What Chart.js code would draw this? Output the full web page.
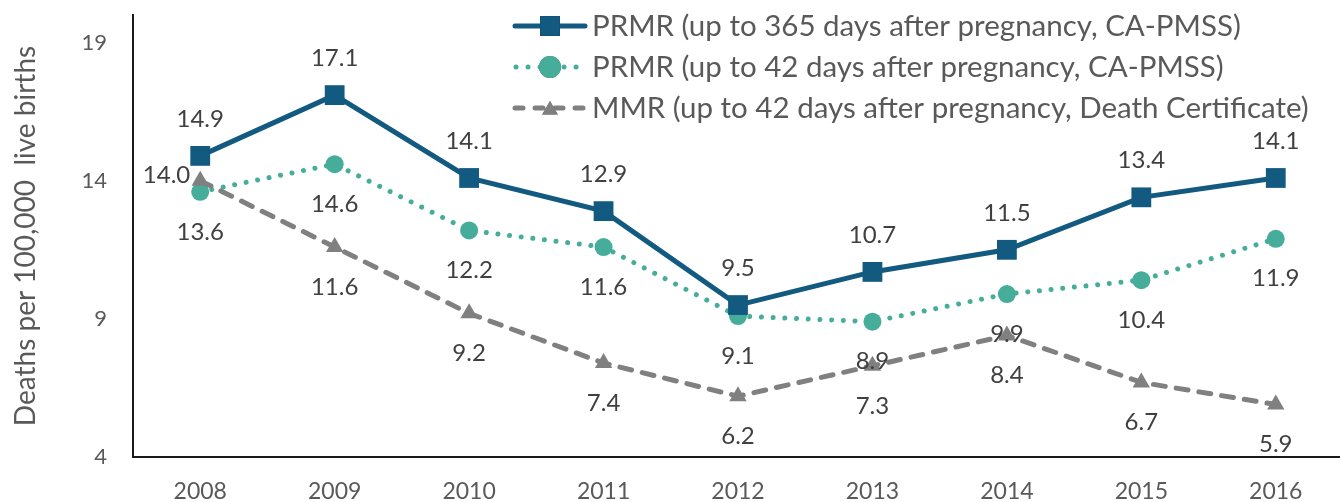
<!DOCTYPE html>
<html>
<head>
<meta charset="utf-8">
<script src="https://cdn.jsdelivr.net/npm/chart.js@4.4.1/dist/chart.umd.min.js"></script>
<style>
  html, body { margin: 0; padding: 0; background: #fff; overflow: hidden; }
</style>
</head>
<body>
<!-- canvas a bit wider than the window: the original plot is cropped at the right -->
<canvas id="chart" width="1357" height="502"></canvas>
<script>
const years = ["2008", "2009", "2010", "2011", "2012", "2013", "2014", "2015", "2016"];
const prmr365 = [14.9, 17.1, 14.1, 12.9, 9.5, 10.7, 11.5, 13.4, 14.1];
const prmr42 = [13.6, 14.6, 12.2, 11.6, 9.1, 8.9, 9.9, 10.4, 11.9];
const mmr42 = [14.0, 11.6, 9.2, 7.4, 6.2, 7.3, 8.4, 6.7, 5.9];
const yTicks = [4, 9, 14, 19];
const seriesNames = [
    "PRMR (up to 365 days after pregnancy, CA-PMSS)",
    "PRMR (up to 42 days after pregnancy, CA-PMSS)",
    "MMR (up to 42 days after pregnancy, Death Certificate)"
];

const BLUE = "#135a81";
const TEAL = "#46ad9b";
const GRAY = "#808080";
const FONT = "Lato";

// label offsets per dataset (px from the point), 2008 MMR label sits to the left
const labelPlace = [
    { dy: -37 },
    { dy: 40 },
    { dy: 40, leftAt: [0] }
];

const pointLabels = {
    id: "pointLabels",
    afterDatasetsDraw(chart) {
        const ctx = chart.ctx;
        ctx.save();
        ctx.font = "24px " + FONT;
        ctx.fillStyle = "#404040";
        ctx.textBaseline = "middle";
        chart.data.datasets.forEach((ds, i) => {
            const meta = chart.getDatasetMeta(i);
            const place = labelPlace[i];
            meta.data.forEach((pt, j) => {
                const txt = ds.data[j].toFixed(1);
                if (place.leftAt && place.leftAt.includes(j)) {
                    ctx.textAlign = "right";
                    ctx.fillText(txt, pt.x - 10, pt.y - 5);
                } else {
                    ctx.textAlign = "center";
                    ctx.fillText(txt, pt.x, pt.y + place.dy);
                }
            });
        });
        ctx.restore();
    }
};

const customLegend = {
    id: "customLegend",
    afterDraw(chart) {
        const ctx = chart.ctx;
        const rows = [26, 67, 108];
        const dashes = [[], [0.01, 12], [8, 12]];
        const sizes = [14, 11, 9];
        ctx.save();
        chart.data.datasets.forEach((ds, i) => {
            const y = rows[i];
            ctx.strokeStyle = ds.borderColor;
            ctx.lineWidth = ds.borderWidth;
            ctx.lineCap = "round";
            ctx.setLineDash(dashes[i]);
            ctx.beginPath();
            ctx.moveTo(i === 1 ? 516 : 515, y);
            ctx.lineTo(585, y);
            ctx.stroke();
            ctx.setLineDash([]);
            Chart.helpers.drawPoint(ctx, {
                pointStyle: ds.pointStyle,
                radius: sizes[i],
                borderWidth: 0
            }, 550, y + (i === 2 ? 2 : 0));
            ctx.fillStyle = ds.pointBackgroundColor;
            ctx.fill();
            ctx.font = "29.5px " + FONT;
            ctx.fillStyle = "#595959";
            ctx.textAlign = "left";
            ctx.textBaseline = "middle";
            ctx.fillText(seriesNames[i], 592, y);
        });
        ctx.restore();
    }
};

const noPad = s => {
    s.paddingTop = 0;
    s.paddingBottom = 0;
    s.paddingLeft = 0;
    s.paddingRight = 0;
};

new Chart(document.getElementById("chart").getContext("2d"), {
    type: "line",
    data: {
        labels: years,
        datasets: [{
            label: seriesNames[0],
            data: prmr365,
            borderColor: BLUE,
            borderWidth: 5,
            pointStyle: "rect",
            pointRadius: 14,
            pointBorderWidth: 0,
            pointBackgroundColor: BLUE,
            order: 0
        }, {
            label: seriesNames[1],
            data: prmr42,
            borderColor: TEAL,
            borderWidth: 5,
            borderDash: [0.01, 11.7],
            borderCapStyle: "round",
            pointStyle: "circle",
            pointRadius: 9,
            pointBorderWidth: 0,
            pointBackgroundColor: TEAL,
            order: 2
        }, {
            label: seriesNames[2],
            data: mmr42,
            borderColor: GRAY,
            borderWidth: 5,
            borderDash: [12, 11],
            borderCapStyle: "round",
            pointStyle: "triangle",
            pointRadius: 10,
            pointBorderWidth: 0,
            pointBackgroundColor: GRAY,
            order: 1
        }]
    },
    options: {
        responsive: false,
        animation: false,
        devicePixelRatio: 1,
        layout: { padding: { top: 15, right: 0, left: 0, bottom: 0 } },
        plugins: {
            legend: { display: false },
            tooltip: { enabled: false }
        },
        scales: {
            x: {
                offset: true,
                grid: { display: false, drawTicks: false },
                border: { display: true, color: "#1a1a1a", width: 2 },
                ticks: {
                    font: { family: FONT, size: 23 },
                    color: "#595959",
                    padding: 21,
                    maxRotation: 0
                },
                afterFit: s => { noPad(s); s.height = 45; }
            },
            y: {
                min: 4,
                max: 20,
                grid: { display: false, drawTicks: false },
                border: { display: true, color: "#1a1a1a", width: 2 },
                afterBuildTicks: s => { s.ticks = yTicks.map(v => ({ value: v })); },
                ticks: {
                    font: { family: FONT, size: 22 },
                    color: "#595959",
                    padding: 26
                },
                title: {
                    display: true,
                    text: "Deaths per 100,000  live births",
                    font: { family: FONT, size: 28 },
                    color: "#595959",
                    padding: { top: 9, bottom: 0 }
                },
                afterFit: s => { noPad(s); s.width = 133; }
            }
        }
    },
    plugins: [pointLabels, customLegend]
});
</script>
</body>
</html>
